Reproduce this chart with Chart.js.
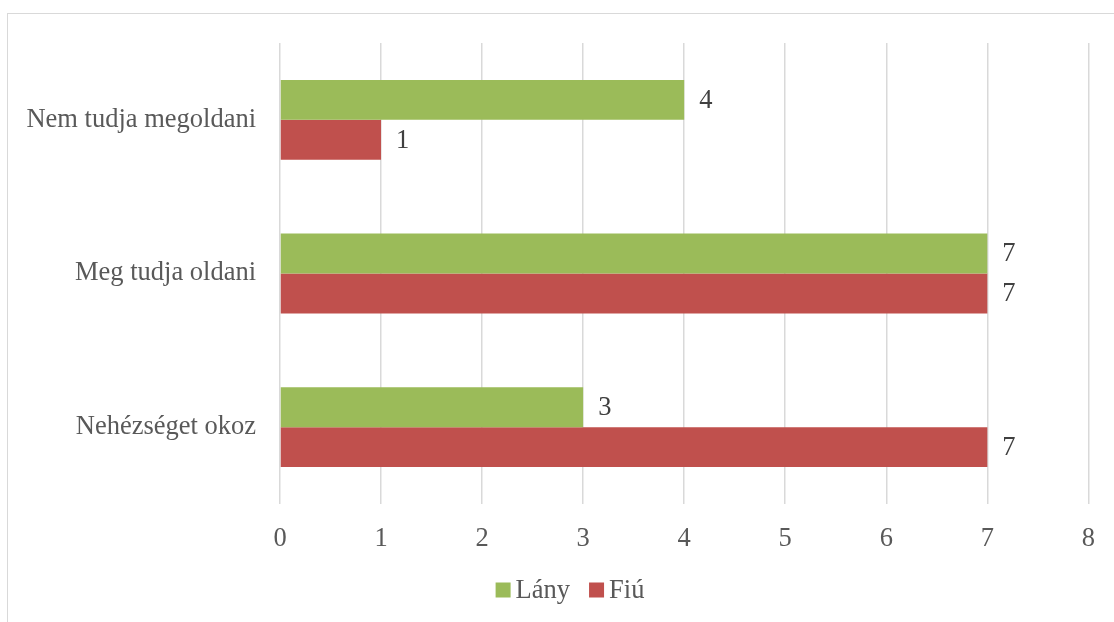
<!DOCTYPE html>
<html>
<head>
<meta charset="utf-8">
<script src="https://cdn.jsdelivr.net/npm/chart.js@4"></script>
<style>
  html, body { margin: 0; padding: 0; background: #fff; overflow: hidden; }
  #frame { position: absolute; left: 7px; top: 13px; width: 1200px; height: 700px; border: 1.5px solid #d9d9d9; box-sizing: border-box; }
  #wrap { position: absolute; left: 0; top: 0; width: 1114px; height: 622px; }
</style>
</head>
<body>
<div id="frame"></div>
<div id="wrap"><canvas id="c" width="1114" height="622"></canvas></div>
<script>
const categories = ["Nem tudja megoldani", "Meg tudja oldani", "Nehézséget okoz"];
const lanyValues = [4, 7, 3];
const fiuValues = [1, 7, 7];
const xTicks = [0, 1, 2, 3, 4, 5, 6, 7, 8];

const FONT = "'Liberation Serif', 'Times New Roman', serif";
const FS = 26.5;
const TEXT = "#595959";

const labelPlugin = {
  id: 'barLabels',
  afterDatasetsDraw(chart) {
    const ctx = chart.ctx;
    ctx.save();
    ctx.font = FS + "px " + FONT;
    ctx.fillStyle = "#404040";
    ctx.textAlign = "left";
    ctx.textBaseline = "middle";
    chart.data.datasets.forEach((ds, i) => {
      const meta = chart.getDatasetMeta(i);
      meta.data.forEach((bar, j) => {
        ctx.fillText(String(ds.data[j]), bar.x + 15, bar.y + 1);
      });
    });
    ctx.restore();
  }
};

const legendPlugin = {
  id: 'customLegend',
  afterDraw(chart) {
    const ctx = chart.ctx;
    ctx.save();
    ctx.font = FS + "px " + FONT;
    ctx.textBaseline = "middle";
    ctx.textAlign = "left";
    const box = 15, gapText = 5, gapItem = 19;
    const items = chart.data.datasets.map(ds => ({ label: ds.label, color: ds.backgroundColor, w: ctx.measureText(ds.label).width }));
    let total = 0;
    items.forEach((it, i) => { total += box + gapText + it.w + (i < items.length - 1 ? gapItem : 0); });
    let x = 570 - total / 2;
    const y = 590;
    items.forEach(it => {
      ctx.fillStyle = it.color;
      ctx.fillRect(x, y - box / 2, box, box);
      x += box + gapText;
      ctx.fillStyle = TEXT;
      ctx.fillText(it.label, x, y + 1);
      x += it.w + gapItem;
    });
    ctx.restore();
  }
};

new Chart(document.getElementById('c'), {
  type: 'bar',
  data: {
    labels: categories,
    datasets: [
      { label: 'Lány', data: lanyValues, backgroundColor: '#9BBB59', borderWidth: 0 },
      { label: 'Fiú', data: fiuValues, backgroundColor: '#C0504D', borderWidth: 0 }
    ]
  },
  options: {
    indexAxis: 'y',
    responsive: false,
    animation: false,
    devicePixelRatio: 1,
    layout: { padding: { left: 0, top: 43, right: 24, bottom: 58 } },
    datasets: { bar: { categoryPercentage: 0.52, barPercentage: 1.0 } },
    scales: {
      x: {
        min: 0, max: 8,
        afterBuildTicks(scale) { scale.ticks = xTicks.map(v => ({ value: v })); },
        grid: { color: '#d9d9d9', lineWidth: 1.5, drawTicks: false },
        border: { display: false },
        ticks: { font: { family: FONT, size: FS }, color: TEXT, padding: 19 },
        afterFit(scale) { scale.height = 60; }
      },
      y: {
        grid: { display: false, drawTicks: false },
        border: { display: false },
        ticks: { font: { family: FONT, size: FS }, color: TEXT, padding: 24 },
        afterFit(scale) { scale.width = 280; }
      }
    },
    plugins: {
      legend: { display: false },
      tooltip: { enabled: false }
    }
  },
  plugins: [labelPlugin, legendPlugin]
});
</script>
</body>
</html>
